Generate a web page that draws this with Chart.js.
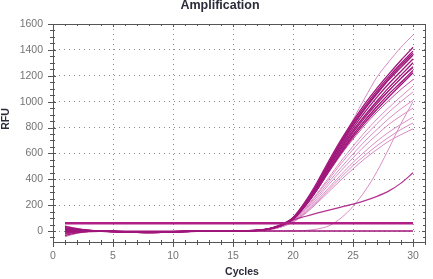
<!DOCTYPE html>
<html>
<head>
<meta charset="utf-8">
<script src="https://cdn.jsdelivr.net/npm/chart.js@4.4.0/dist/chart.umd.min.js"></script>
<style>
html,body{margin:0;padding:0;background:#fff;}
#wrap{width:433px;height:279px;position:relative;}
</style>
</head>
<body>
<div id="wrap"><canvas id="c" width="433" height="279"></canvas></div>
<script>
// ---- data ----
const chartTitle = "Amplification";
const xTitle = "Cycles";
const yTitle = "RFU";
const cycles = [1,2,3,4,5,6,7,8,9,10,11,12,13,14,15,16,17,18,19,20,21,22,23,24,25,26,27,28,29,30];
const xTickValues = [0,5,10,15,20,25,30];
const yTickValues = [0,200,400,600,800,1000,1200,1400,1600];

// dark bundle
const d1 = [35,18,6,0,-3,-6,-9,-11,-10,-7,-4,-2,-1,0,0,1,6,18,48,105,225,375,545,705,850,985,1105,1215,1320,1420];
const d2 = [20,10,3,-1,-4,-7,-10,-12,-10,-6,-3,-2,-1,0,1,1,5,17,45,100,215,360,530,690,835,965,1085,1195,1295,1390];
const d3 = [5,2,0,-2,-5,-8,-11,-13,-11,-8,-5,-3,-1,0,0,2,5,16,44,95,210,350,515,670,815,945,1060,1170,1265,1360];
const d4 = [-15,-6,-2,-3,-5,-8,-10,-11,-9,-6,-4,-2,-1,0,1,2,6,17,45,98,205,345,505,655,795,920,1035,1140,1235,1330];
const d5 = [12,6,2,-1,-4,-7,-10,-12,-11,-7,-4,-2,-1,0,0,1,5,15,42,92,200,335,495,640,775,895,1005,1110,1205,1300];
const d6 = [-35,-15,-5,-3,-4,-7,-9,-10,-8,-5,-3,-1,0,0,1,2,5,16,43,94,198,330,485,628,760,878,985,1085,1180,1270];
const d7 = [25,12,4,0,-3,-6,-9,-11,-10,-7,-4,-2,-1,0,0,1,4,14,40,88,190,320,470,610,740,855,960,1060,1150,1240];
const d8 = [-5,-2,-1,-2,-4,-7,-10,-12,-10,-7,-4,-2,-1,0,1,1,5,15,41,90,192,318,465,600,725,838,940,1038,1130,1222];
const d9 = [8,4,1,-1,-4,-7,-10,-11,-10,-6,-3,-2,-1,0,0,1,5,16,44,97,210,355,520,680,820,950,1070,1180,1280,1375];

// medium / light curves
const t1 = [30,15,5,0,-3,-6,-9,-10,-9,-6,-3,-2,-1,0,0,1,5,15,42,95,205,345,515,690,860,1030,1190,1310,1420,1515];
const m1 = [-20,-8,-2,-2,-5,-7,-10,-11,-10,-6,-3,-2,-1,0,0,1,4,14,40,90,190,315,455,590,710,820,920,1010,1095,1170];
const m2 = [28,14,5,0,-3,-6,-9,-11,-10,-7,-4,-2,-1,0,0,1,5,15,42,94,200,330,480,620,745,860,965,1060,1145,1225];
const m3 = [0,0,0,-1,-4,-7,-10,-12,-10,-7,-4,-2,-1,0,0,1,5,16,44,98,208,345,500,645,775,890,995,1090,1180,1260];
const l1 = [-45,-18,-5,-3,-5,-7,-9,-10,-9,-6,-3,-2,-1,0,1,1,4,13,38,85,175,290,415,540,655,765,865,955,1040,1120];
const l2 = [15,8,2,-1,-4,-7,-10,-11,-10,-7,-4,-2,-1,0,0,1,4,13,37,82,168,280,400,520,630,735,830,920,1000,1075];
const l3 = [-25,-10,-3,-2,-4,-7,-9,-10,-9,-6,-3,-2,-1,0,0,1,4,12,35,78,160,265,380,490,595,695,785,870,945,1010];
const l4 = [40,20,6,1,-3,-6,-9,-11,-10,-7,-4,-2,-1,0,0,1,3,12,34,75,150,250,360,465,565,660,745,825,890,950];
const l5 = [-10,-4,-1,-2,-4,-7,-10,-11,-9,-6,-4,-2,-1,0,1,1,3,11,32,72,142,235,335,435,530,615,695,765,825,880];
const l6 = [18,9,3,0,-3,-6,-9,-10,-9,-6,-3,-2,-1,0,0,1,3,11,31,70,138,225,320,415,505,585,660,725,785,835];
const l7 = [-30,-12,-4,-3,-4,-7,-9,-10,-9,-6,-3,-2,-1,0,1,1,3,10,30,68,132,215,305,395,480,560,630,695,745,790];

// late riser, linear drifter, flat negative control
const late = [10,5,2,0,-2,-4,-6,-7,-6,-4,-2,-1,0,0,0,0,0,0,0,1,4,15,40,100,190,310,460,640,830,1000];
const drift = [-20,-8,-2,-2,-4,-7,-9,-10,-9,-6,-3,-2,-1,0,0,1,5,18,50,85,112,138,162,185,208,235,268,310,370,450];
const flat = [5,3,1,0,0,-1,-2,-2,-2,-1,0,0,0,0,0,0,0,0,0,0,0,0,0,0,0,0,0,0,0,0];

// threshold line
const thresholdCycles = [1,30];
const thresholdRFU = [60,60];

// axis
const xMin = 0, xMax = 31, xMinor = 1;
const yMin = -85, yMax = 1600, yMinor = 50;

// ---- styling ----
const DARK = '#A0167A';
const MED = '#C24A9F';
const LIGHT = '#D88CC3';

function pts(ys){ return cycles.map((c,i)=>({x:c,y:ys[i]})); }
function ds(ys,color,w){
  return {data:pts(ys),borderColor:color,borderWidth:w,pointRadius:0,tension:0.3,fill:false};
}

const datasets = [
  {data:thresholdCycles.map((c,i)=>({x:c,y:thresholdRFU[i]})),borderColor:'#B01F84',borderWidth:2.5,pointRadius:0,fill:false},
  ds(flat,DARK,1.5),
  ds(d1,DARK,1.3),ds(d2,DARK,1.3),ds(d3,DARK,1.3),ds(d4,DARK,1.3),ds(d5,DARK,1.3),
  ds(d6,DARK,1.3),ds(d7,DARK,1.3),ds(d8,DARK,1.3),ds(d9,DARK,1.3),
  ds(drift,'#B3338F',1.2),
  ds(m1,MED,1),ds(m2,MED,1),ds(m3,MED,1),
  ds(t1,LIGHT,1),ds(late,LIGHT,1),
  ds(l1,LIGHT,1),ds(l2,LIGHT,1),ds(l3,LIGHT,1),ds(l4,LIGHT,1),ds(l5,LIGHT,1),ds(l6,LIGHT,1),ds(l7,LIGHT,1)
];

const decor = {
  id:'decor',
  afterDraw(chart){
    const ctx = chart.ctx, a = chart.chartArea;
    const xs = chart.scales.x, ys = chart.scales.y;
    ctx.save();
    ctx.strokeStyle = '#555';
    ctx.lineWidth = 1;
    ctx.strokeRect(Math.round(a.left)+0.5, Math.round(a.top)+0.5, Math.round(a.right-a.left), Math.round(a.bottom-a.top));
    ctx.beginPath();
    for (let v = xMin; v <= xMax; v += xMinor) {
      const px = Math.round(xs.getPixelForValue(v)) + 0.5;
      const major = xTickValues.includes(v);
      ctx.moveTo(px, a.bottom - (major?3:2)); ctx.lineTo(px, a.bottom + (major?5:3));
      ctx.moveTo(px, a.top); ctx.lineTo(px, a.top + (major?3:2));
    }
    for (let v = Math.ceil(yMin/yMinor)*yMinor; v <= yMax; v += yMinor) {
      const py = Math.round(ys.getPixelForValue(v)) + 0.5;
      const major = yTickValues.includes(v);
      ctx.moveTo(a.left - (major?5:3), py); ctx.lineTo(a.left + (major?3:2), py);
      ctx.moveTo(a.right - (major?3:2), py); ctx.lineTo(a.right, py);
    }
    ctx.stroke();
    ctx.fillStyle = '#2b2b3a';
    ctx.textAlign = 'center';
    ctx.textBaseline = 'middle';
    ctx.font = 'bold 12.5px "Liberation Sans", Arial, sans-serif';
    ctx.fillText(chartTitle, 220, 6);
    ctx.font = 'bold 10.5px "Liberation Sans", Arial, sans-serif';
    ctx.fillText(xTitle, 242, 272);
    ctx.translate(6, 119);
    ctx.rotate(-Math.PI/2);
    ctx.fillText(yTitle, 0, 0);
    ctx.restore();
  }
};

const tickFont = {size:10.5, family:'"Liberation Sans", Arial, sans-serif'};

new Chart(document.getElementById('c'), {
  type:'line',
  data:{datasets},
  plugins:[decor],
  options:{
    responsive:false,
    animation:false,
    events:[],
    layout:{padding:{left:0,right:8,top:24,bottom:0}},
    plugins:{legend:{display:false},tooltip:{enabled:false},title:{display:false}},
    scales:{
      x:{
        type:'linear', min:xMin, max:xMax,
        afterBuildTicks(s){ s.ticks = xTickValues.map(v => ({value:v})); },
        afterFit(s){ s.height = 37; },
        ticks:{padding:8, color:'#747474', font:tickFont, maxRotation:0, autoSkip:false, callback:v => String(v)},
        grid:{color:'#8c8c8c', drawTicks:false, lineWidth:1},
        border:{display:true, color:'#555', dash:[1,4]}
      },
      y:{
        type:'linear', min:yMin, max:yMax,
        afterBuildTicks(s){ s.ticks = yTickValues.map(v => ({value:v})); },
        afterFit(s){ s.width = 53; },
        ticks:{padding:10, color:'#747474', font:tickFont, autoSkip:false, callback:v => String(v)},
        grid:{color:'#8c8c8c', drawTicks:false, lineWidth:1},
        border:{display:true, color:'#555', dash:[1,4]}
      }
    }
  }
});
</script>
</body>
</html>
